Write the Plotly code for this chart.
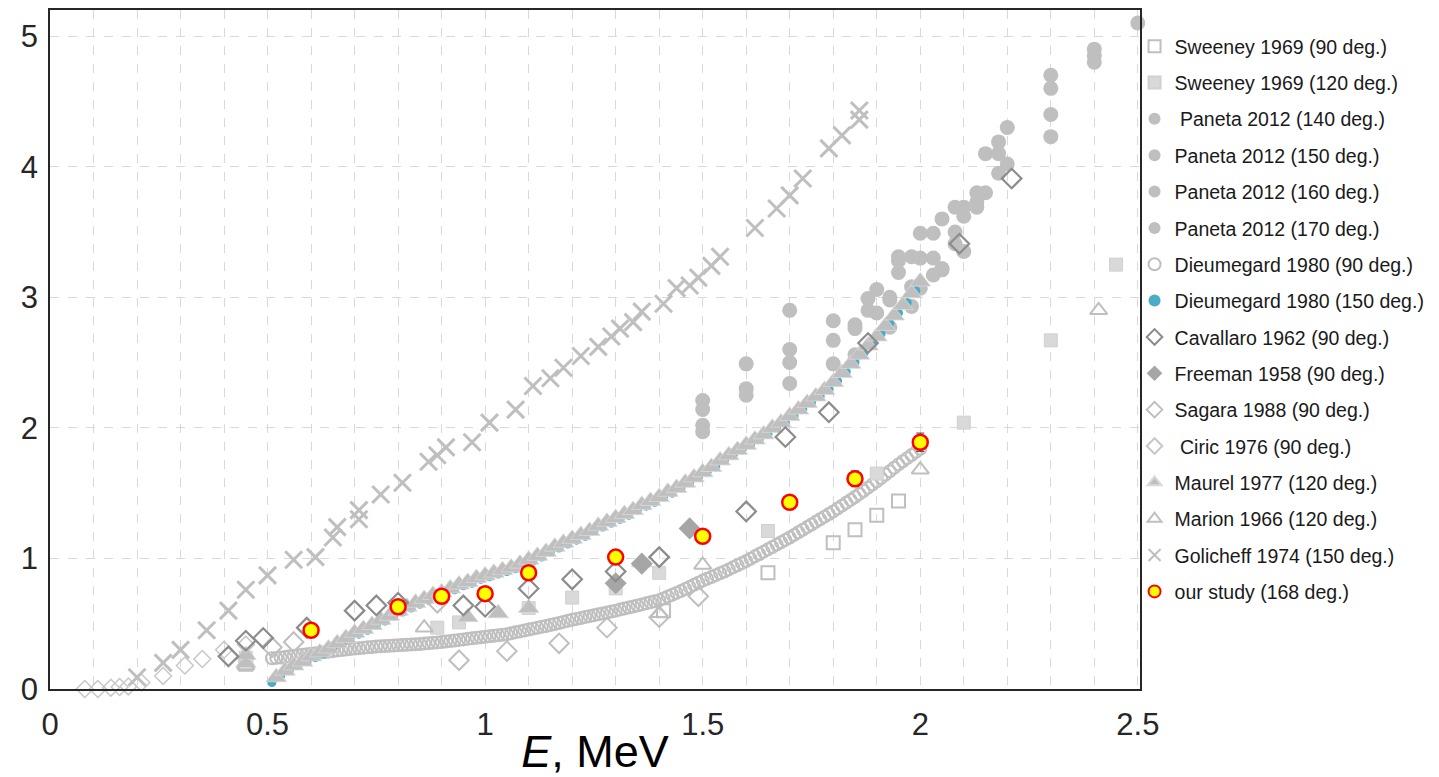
import plotly.graph_objects as go

# ---------------- data ----------------
sweeney90_x = [0.45, 1.41, 1.65, 1.80, 1.85, 1.90, 1.95]
sweeney90_y = [0.19, 0.60, 0.89, 1.12, 1.22, 1.33, 1.44]

sweeney120_x = [0.45, 0.89, 0.94, 1.10, 1.20, 1.30, 1.40, 1.65, 1.90, 2.10, 2.30, 2.45]
sweeney120_y = [0.24, 0.47, 0.51, 0.62, 0.70, 0.77, 0.89, 1.21, 1.65, 2.04, 2.67, 3.25]

paneta140_x = [1.50, 1.50, 1.60, 1.70, 1.70, 1.80, 1.85, 1.88, 1.93, 1.95, 2.00, 2.05, 2.10, 2.15, 2.20, 2.30, 2.40, 2.50]
paneta140_y = [2.21, 2.14, 2.49, 2.90, 2.60, 2.82, 2.79, 2.99, 3.00, 3.31, 3.30, 3.60, 3.69, 3.80, 4.30, 4.70, 4.90, 5.10]
paneta150_x = [1.50, 1.60, 1.70, 1.80, 1.85, 1.88, 1.90, 1.93, 1.95, 2.00, 2.03, 2.08, 2.10, 2.13, 2.18, 2.30, 2.40]
paneta150_y = [2.02, 2.30, 2.50, 2.67, 2.76, 2.90, 3.06, 2.98, 3.19, 3.49, 3.30, 3.69, 3.62, 3.80, 4.19, 4.60, 4.85]
paneta160_x = [1.50, 1.60, 1.70, 1.80, 1.85, 1.90, 1.93, 1.95, 1.98, 2.00, 2.03, 2.05, 2.08, 2.10, 2.13, 2.15, 2.18, 2.20, 2.30, 2.40]
paneta160_y = [1.97, 2.25, 2.34, 2.49, 2.56, 2.88, 2.77, 3.28, 3.31, 3.07, 3.49, 3.22, 3.50, 3.35, 3.73, 4.10, 4.10, 4.02, 4.40, 4.80]
paneta170_x = [1.98, 1.98, 2.03, 2.05, 2.08, 2.13, 2.18, 2.30]
paneta170_y = [3.08, 2.93, 3.17, 3.21, 3.41, 3.69, 3.95, 4.23]

dieu90_x = [0.51, 0.52, 0.53, 0.54, 0.55, 0.56, 0.57, 0.58, 0.59, 0.60,
            0.61, 0.62, 0.63, 0.64, 0.65, 0.66, 0.67, 0.68, 0.69, 0.70,
            0.71, 0.72, 0.73, 0.74, 0.75, 0.76, 0.77, 0.78, 0.79, 0.80,
            0.81, 0.82, 0.83, 0.84, 0.85, 0.86, 0.87, 0.88, 0.89, 0.90,
            0.91, 0.92, 0.93, 0.94, 0.95, 0.96, 0.97, 0.98, 0.99, 1.00,
            1.01, 1.02, 1.03, 1.04, 1.05, 1.06, 1.07, 1.08, 1.09, 1.10,
            1.11, 1.12, 1.13, 1.14, 1.15, 1.16, 1.17, 1.18, 1.19, 1.20,
            1.21, 1.22, 1.23, 1.24, 1.25, 1.26, 1.27, 1.28, 1.29, 1.30,
            1.31, 1.32, 1.33, 1.34, 1.35, 1.36, 1.37, 1.38, 1.39, 1.40,
            1.41, 1.42, 1.43, 1.44, 1.45, 1.46, 1.47, 1.48, 1.49, 1.50,
            1.51, 1.52, 1.53, 1.54, 1.55, 1.56, 1.57, 1.58, 1.59, 1.60,
            1.61, 1.62, 1.63, 1.64, 1.65, 1.66, 1.67, 1.68, 1.69, 1.70,
            1.71, 1.72, 1.73, 1.74, 1.75, 1.76, 1.77, 1.78, 1.79, 1.80,
            1.81, 1.82, 1.83, 1.84, 1.85, 1.86, 1.87, 1.88, 1.89, 1.90,
            1.91, 1.92, 1.93, 1.94, 1.95, 1.96, 1.97, 1.98, 1.99, 2.00]
dieu90_y = [0.235, 0.238, 0.241, 0.245, 0.250, 0.254, 0.258, 0.262, 0.266, 0.270,
            0.274, 0.278, 0.282, 0.286, 0.290, 0.294, 0.298, 0.302, 0.306, 0.310,
            0.313, 0.316, 0.319, 0.322, 0.325, 0.327, 0.329, 0.331, 0.333, 0.335,
            0.337, 0.339, 0.341, 0.343, 0.345, 0.348, 0.351, 0.354, 0.357, 0.360,
            0.364, 0.368, 0.372, 0.376, 0.380, 0.384, 0.388, 0.392, 0.396, 0.400,
            0.404, 0.408, 0.412, 0.416, 0.420, 0.427, 0.434, 0.441, 0.448, 0.455,
            0.462, 0.469, 0.476, 0.483, 0.490, 0.498, 0.506, 0.514, 0.522, 0.530,
            0.537, 0.544, 0.551, 0.558, 0.565, 0.572, 0.579, 0.586, 0.593, 0.600,
            0.608, 0.616, 0.624, 0.632, 0.640, 0.648, 0.656, 0.664, 0.672, 0.680,
            0.694, 0.708, 0.722, 0.736, 0.750, 0.766, 0.782, 0.798, 0.814, 0.830,
            0.844, 0.858, 0.872, 0.886, 0.900, 0.916, 0.932, 0.948, 0.964, 0.980,
            0.998, 1.016, 1.034, 1.052, 1.070, 1.088, 1.106, 1.124, 1.142, 1.160,
            1.180, 1.200, 1.220, 1.240, 1.260, 1.280, 1.300, 1.320, 1.340, 1.360,
            1.382, 1.404, 1.426, 1.448, 1.470, 1.494, 1.518, 1.542, 1.566, 1.590,
            1.616, 1.642, 1.668, 1.694, 1.720, 1.744, 1.768, 1.792, 1.816, 1.840]

dieu150_x = [0.51, 0.53, 0.55, 0.57, 0.59, 0.61, 0.63, 0.65, 0.67, 0.69,
             0.71, 0.73, 0.75, 0.77, 0.79, 0.81, 0.83, 0.85, 0.87, 0.89,
             0.91, 0.93, 0.95, 0.97, 0.99, 1.01, 1.03, 1.05, 1.07, 1.09,
             1.11, 1.13, 1.15, 1.17, 1.19, 1.21, 1.23, 1.25, 1.27, 1.29,
             1.31, 1.33, 1.35, 1.37, 1.39, 1.41, 1.43, 1.45, 1.47, 1.49,
             1.51, 1.53, 1.55, 1.57, 1.59, 1.61, 1.63, 1.65, 1.67, 1.69,
             1.71, 1.73, 1.75, 1.77, 1.79, 1.81, 1.83, 1.85, 1.87, 1.89,
             1.91, 1.93, 1.95, 1.97, 1.99]
dieu150_y = [0.05, 0.10, 0.14, 0.18, 0.21, 0.24, 0.27, 0.31, 0.35, 0.39,
             0.42, 0.45, 0.49, 0.52, 0.56, 0.59, 0.62, 0.65, 0.68, 0.71,
             0.73, 0.76, 0.79, 0.81, 0.84, 0.86, 0.88, 0.90, 0.92, 0.95,
             0.98, 1.01, 1.05, 1.08, 1.11, 1.14, 1.17, 1.21, 1.24, 1.27,
             1.30, 1.33, 1.37, 1.40, 1.43, 1.47, 1.50, 1.54, 1.58, 1.62,
             1.66, 1.70, 1.75, 1.79, 1.83, 1.87, 1.91, 1.95, 2.00, 2.04,
             2.09, 2.14, 2.19, 2.24, 2.30, 2.36, 2.43, 2.50, 2.57, 2.64,
             2.72, 2.80, 2.88, 2.96, 3.05]

cavallaro_x = [0.41, 0.45, 0.49, 0.59, 0.70, 0.75, 0.80, 0.95, 1.00, 1.10, 1.20, 1.30, 1.40, 1.60, 1.69, 1.79, 1.88, 2.09, 2.21]
cavallaro_y = [0.25, 0.37, 0.39, 0.47, 0.60, 0.64, 0.66, 0.64, 0.63, 0.77, 0.84, 0.90, 1.01, 1.36, 1.93, 2.12, 2.65, 3.41, 3.91]

freeman_x = [1.30, 1.36, 1.47]
freeman_y = [0.81, 0.96, 1.23]

sagara_x = [0.51, 0.56, 0.89, 0.94, 1.05, 1.17, 1.28, 1.40, 1.49]
sagara_y = [0.32, 0.36, 0.66, 0.22, 0.29, 0.35, 0.47, 0.55, 0.71]

ciric_x = [0.08, 0.11, 0.14, 0.16, 0.18, 0.21, 0.26, 0.31, 0.35, 0.40, 0.45]
ciric_y = [0.00, 0.00, 0.01, 0.015, 0.02, 0.05, 0.10, 0.18, 0.23, 0.30, 0.34]

maurel_x = [0.45, 0.45, 0.96, 1.03, 1.10, 1.36,
            0.52, 0.54, 0.56, 0.58, 0.60, 0.62, 0.64, 0.66, 0.68, 0.70,
            0.72, 0.74, 0.76, 0.78, 0.80, 0.82, 0.84, 0.86, 0.88, 0.90,
            0.92, 0.94, 0.96, 0.98, 1.00, 1.02, 1.04, 1.06, 1.08, 1.10,
            1.12, 1.14, 1.16, 1.18, 1.20, 1.22, 1.24, 1.26, 1.28, 1.30,
            1.32, 1.34, 1.36, 1.38, 1.40, 1.42, 1.44, 1.46, 1.48, 1.50,
            1.52, 1.54, 1.56, 1.58, 1.60, 1.62, 1.64, 1.66, 1.68, 1.70,
            1.72, 1.74, 1.76, 1.78, 1.80, 1.82, 1.84, 1.86, 1.88, 1.90,
            1.92, 1.94, 1.96, 1.98, 2.00]
maurel_y = [0.20, 0.26, 0.55, 0.58, 0.62, 0.97,
            0.09, 0.14, 0.18, 0.21, 0.25, 0.28, 0.31, 0.35, 0.39, 0.43,
            0.46, 0.49, 0.53, 0.56, 0.60, 0.63, 0.66, 0.69, 0.72, 0.74,
            0.77, 0.80, 0.82, 0.85, 0.87, 0.89, 0.91, 0.93, 0.96, 0.99,
            1.02, 1.05, 1.09, 1.12, 1.15, 1.18, 1.21, 1.25, 1.28, 1.31,
            1.34, 1.37, 1.41, 1.44, 1.47, 1.51, 1.54, 1.58, 1.62, 1.66,
            1.70, 1.75, 1.79, 1.83, 1.87, 1.91, 1.95, 2.00, 2.04, 2.09,
            2.14, 2.19, 2.24, 2.29, 2.35, 2.42, 2.49, 2.56, 2.63, 2.70,
            2.78, 2.86, 2.94, 3.03, 3.12]

marion_x = [0.45, 0.86, 1.40, 1.50, 2.00, 2.41]
marion_y = [0.18, 0.47, 0.58, 0.95, 1.68, 2.90]

golicheff_x = [0.20, 0.26, 0.30, 0.36, 0.41, 0.45, 0.50, 0.56, 0.61, 0.65, 0.66, 0.71, 0.71,
               0.76, 0.81, 0.87, 0.89, 0.91, 0.97, 1.01, 1.07, 1.11, 1.15, 1.18, 1.22, 1.26,
               1.29, 1.31, 1.34, 1.36, 1.41, 1.44, 1.47, 1.49, 1.52, 1.54, 1.62, 1.67, 1.70,
               1.73, 1.79, 1.82, 1.86, 1.86]
golicheff_y = [0.09, 0.20, 0.30, 0.45, 0.60, 0.76, 0.87, 0.99, 1.01, 1.16, 1.24, 1.30, 1.37,
               1.49, 1.58, 1.74, 1.79, 1.85, 1.89, 2.04, 2.14, 2.32, 2.38, 2.46, 2.55, 2.62,
               2.70, 2.76, 2.81, 2.89, 2.95, 3.07, 3.09, 3.15, 3.24, 3.31, 3.53, 3.68, 3.78,
               3.91, 4.14, 4.24, 4.36, 4.43]

ours_x = [0.6, 0.8, 0.9, 1.0, 1.1, 1.3, 1.5, 1.7, 1.85, 2.0]
ours_y = [0.45, 0.63, 0.71, 0.73, 0.89, 1.01, 1.17, 1.43, 1.61, 1.89]
ours_err = [0.02, 0.02, 0.02, 0.02, 0.03, 0.03, 0.04, 0.05, 0.06, 0.07]

x_tick_vals = [0, 0.5, 1, 1.5, 2, 2.5]
x_tick_text = ["0", "0.5", "1", "1.5", "2", "2.5"]
y_tick_vals = [0, 1, 2, 3, 4, 5]

# ---------------- figure ----------------
fig = go.Figure()

def add(x, y, name, rank, symbol, size, color, line_color=None, line_width=0, err=None):
    marker = dict(symbol=symbol, size=size, color=color,
                  line=dict(color=line_color if line_color else color, width=line_width))
    kw = {}
    if err is not None:
        kw["error_y"] = dict(type="data", array=err, color="#404040", thickness=1, width=4)
    fig.add_trace(go.Scatter(x=x, y=y, mode="markers", name=name, marker=marker,
                             legendrank=rank, legendgroup=name, cliponaxis=False, **kw))

# drawing order (back to front)
add(paneta140_x, paneta140_y, " Paneta 2012 (140 deg.)", 3, "circle", 15, "#bfbfbf")
add(paneta150_x, paneta150_y, "Paneta 2012 (150 deg.)", 4, "circle", 15, "#bfbfbf")
add(paneta160_x, paneta160_y, "Paneta 2012 (160 deg.)", 5, "circle", 15, "#bfbfbf")
add(paneta170_x, paneta170_y, "Paneta 2012 (170 deg.)", 6, "circle", 15, "#bfbfbf")
add(dieu90_x, dieu90_y, "Dieumegard 1980 (90 deg.)", 7, "circle-open", 12, "#bfbfbf", "#bfbfbf", 2)
add(sweeney90_x, sweeney90_y, "Sweeney 1969 (90 deg.)", 1, "square-open", 13, "#bfbfbf", "#bfbfbf", 2)
add(sweeney120_x, sweeney120_y, "Sweeney 1969 (120 deg.)", 2, "square", 13, "#d9d9d9", "#d0d0d0", 1)
add(dieu150_x, dieu150_y, "Dieumegard 1980 (150 deg.)", 8, "circle", 9, "#4bacc6")
add(maurel_x, maurel_y, "Maurel 1977 (120 deg.)", 13, "triangle-up", 18, "#bfbfbf", "#d9d9d9", 0.8)
add(marion_x, marion_y, "Marion 1966 (120 deg.)", 14, "triangle-up-open", 15, "#bfbfbf", "#bfbfbf", 2)
add(ciric_x, ciric_y, " Ciric 1976 (90 deg.)", 12, "diamond-open", 13, "#c8c8c8", "#c8c8c8", 1.5)
add(sagara_x, sagara_y, "Sagara 1988 (90 deg.)", 11, "diamond-open", 15, "#bfbfbf", "#bfbfbf", 2)
add(freeman_x, freeman_y, "Freeman 1958 (90 deg.)", 10, "diamond", 17, "#a6a6a6")
add(cavallaro_x, cavallaro_y, "Cavallaro 1962 (90 deg.)", 9, "diamond-open", 15, "#8c8c8c", "#8c8c8c", 2.2)
add(golicheff_x, golicheff_y, "Golicheff 1974 (150 deg.)", 15, "x-thin-open", 17, "#bfbfbf", "#bfbfbf", 3)
add(ours_x, ours_y, "our study (168 deg.)", 16, "circle", 15, "#ffff00", "#ff0000", 2.5, err=ours_err)

fig.update_layout(
    width=1439, height=777,
    margin=dict(l=50, r=299, t=10, b=88, autoexpand=False),
    plot_bgcolor="white", paper_bgcolor="white",
    font=dict(family="Liberation Sans, Arial, sans-serif", color="#1a1a1a"),
    showlegend=True,
    legend=dict(x=0.995, y=0.975, xanchor="left", yanchor="top",
                font=dict(size=19.5, color="#1a1a1a"), tracegroupgap=8,
                itemsizing="constant", bgcolor="rgba(0,0,0,0)"),
)
fig.update_xaxes(range=[0, 2.505], tickvals=x_tick_vals, ticktext=x_tick_text,
                 showgrid=True, gridcolor="#d9d9d9", griddash="dash", gridwidth=1,
                 minor=dict(dtick=0.1, showgrid=True, gridcolor="#d9d9d9", griddash="dash", gridwidth=1),
                 showline=True, linecolor="#262626", linewidth=2, mirror=True, zeroline=False,
                 ticks="", ticklabelstandoff=7,
                 tickfont=dict(family="Liberation Sans, Arial", size=31, color="#262626"),
                 title=dict(text="<i>E</i>, MeV", font=dict(family="Liberation Sans, Arial", size=45, color="#000000"), standoff=2))
fig.update_yaxes(range=[0, 5.2], tickvals=y_tick_vals,
                 showgrid=True, gridcolor="#d9d9d9", griddash="dash", gridwidth=1,
                 showline=True, linecolor="#262626", linewidth=1.5, mirror=True, zeroline=False,
                 ticks="", ticklabelstandoff=4,
                 tickfont=dict(family="Liberation Sans, Arial", size=31, color="#262626"))

fig.write_html("out.html")
